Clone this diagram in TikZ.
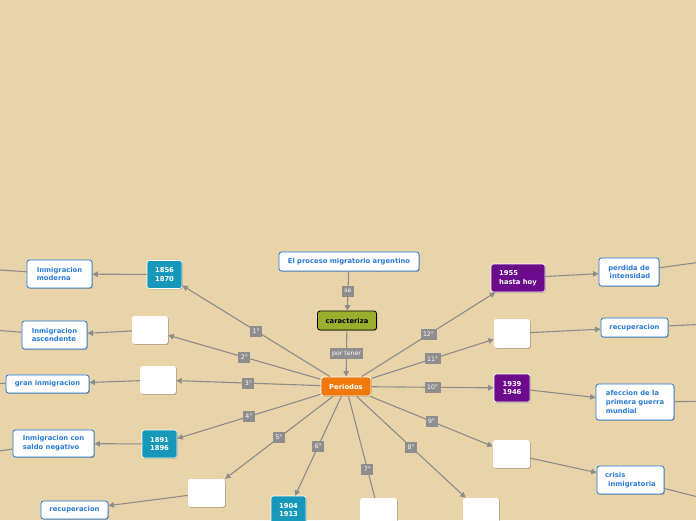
\documentclass[tikz,border=0pt]{standalone}
\usepackage{fontspec}
\setmainfont{DejaVu Sans}
\usetikzlibrary{arrows.meta,shadows}
\definecolor{bg}{HTML}{E9D4A9}
\definecolor{blueB}{HTML}{1E78DC}
\definecolor{blueT}{HTML}{2A7BD8}
\definecolor{tealc}{HTML}{1598BA}
\definecolor{purplec}{HTML}{6B0A8A}
\definecolor{orangec}{HTML}{EF790C}
\definecolor{greenc}{HTML}{9BAF2F}
\definecolor{lineg}{HTML}{8C8C8C}
\definecolor{labg}{HTML}{8E8E8E}
\begin{document}
\begin{tikzpicture}[x=1pt,y=-1pt,
  box/.style={rounded corners=2.5pt, font=\fontsize{6.8}{8.8}\selectfont\bfseries, inner sep=2pt,
    drop shadow={shadow xshift=0.8pt,shadow yshift=-0.8pt,opacity=0.25,fill=black}},
  bluebox/.style={box, draw=blueB, fill=white, text=blueT, line width=0.8pt, align=left},
  datebox/.style={box, draw=white, line width=0.6pt, text=white, align=center, minimum width=35pt, minimum height=28pt},
  tealbox/.style={datebox, fill=tealc},
  purplebox/.style={datebox, fill=purplec},
  whitebox/.style={box, fill=white, minimum width=36pt, minimum height=28pt},
  lab/.style={fill=labg, text=white, font=\fontsize{6.2}{6.5}\selectfont, inner xsep=2.5pt, inner ysep=0pt, minimum height=11pt},
  con/.style={draw=lineg, line width=1.1pt},
  arr/.style={con, -{Triangle[length=5.5pt,width=5.5pt]}},
]
\fill[bg] (0,0) rectangle (696,520);
\useasboundingbox (0,0) rectangle (696,520);
\clip (0,0) rectangle (696,520);

% central column
\node[bluebox, align=center, minimum width=140pt, minimum height=19pt] (proc) at (349,261.5) {El proceso migratorio argentino};
\node[box, fill=greenc, draw=black, line width=0.8pt, text=black, minimum width=59pt, minimum height=19pt] (car) at (347,320.5) {caracteriza};
\node[box, fill=orangec, draw=white, line width=0.8pt, text=white, minimum width=50pt, minimum height=19pt] (per) at (346,386.5) {Periodos};

% period nodes
\node[tealbox] (d1) at (164.5,274.5) {1856\\1870};
\node[whitebox] (w2) at (150,330) {};
\node[whitebox] (w3) at (158,380) {};
\node[tealbox] (d4) at (159.5,444) {1891\\1896};
\node[whitebox, minimum width=37pt] (w5) at (206.5,493) {};
\node[tealbox] (d6) at (288.5,510) {1904\\1913};
\node[whitebox, minimum width=37pt] (w7) at (378.5,512) {};
\node[whitebox] (w8) at (481,512) {};
\node[whitebox, minimum width=37pt] (w9) at (511.5,454) {};
\node[purplebox, minimum width=36pt] (d10) at (512,388) {1939\\1946};
\node[whitebox, minimum height=29pt] (w11) at (512,333.5) {};
\node[purplebox, minimum width=54pt, align=left] (d12) at (518,278) {1955\\hasta hoy};

% description nodes
\node[bluebox, minimum width=65pt, minimum height=28pt] (moderna) at (59.5,274) {Inmigracion\\moderna};
\node[bluebox, minimum width=65pt, minimum height=28pt] (asc) at (54.5,335) {Inmigracion\\ascendente};
\node[bluebox, minimum width=83pt, minimum height=18pt] (gran) at (47.5,384) {gran inmigracion};
\node[bluebox, minimum width=81pt, minimum height=27pt] (saldo) at (53.5,443.5) {Inmigracion con\\saldo negativo};
\node[bluebox, minimum width=67pt, minimum height=18pt] (recL) at (74.5,510) {recuperacion};
\node[bluebox, align=center, minimum width=60pt, minimum height=28pt] (perd) at (629,272) {perdida de\\\hspace*{2pt}intensidad};
\node[bluebox, minimum width=67pt, minimum height=19pt] (recR) at (634.5,327.5) {recuperacion};
\node[bluebox, minimum width=78pt, minimum height=36pt] (afec) at (635,402) {afeccion de la\\primera guerra\\mundial};
\node[bluebox, minimum width=67pt, minimum height=28pt] (crisis) at (630.5,480) {crisis\\\hspace*{3pt}inmigratoria};

% off-picture ends
\coordinate (oModerna) at (-30,268);
\coordinate (oAsc) at (-30,328);
\coordinate (oGran) at (-30,383);
\coordinate (oSaldo) at (-30,455);
\coordinate (oPerd) at (730,258);
\coordinate (oRecR) at (730,323);
\coordinate (oAfec) at (730,401);
\coordinate (oCrisis) at (730,505);

% central connectors
\draw[arr] (proc) -- node[lab]{se} (car);
\draw[arr] (car) -- node[lab]{por tener} (per);

\draw[arr] (per) -- node[lab]{1°} (d1);
\draw[arr] (per) -- node[lab]{2°} (w2);
\draw[arr] (per) -- node[lab]{3°} (w3);
\draw[arr] (per) -- node[lab]{4°} (d4);
\draw[arr] (per) -- node[lab]{5°} (w5);
\draw[arr] (per) -- node[lab]{6°} (d6);
\draw[con] (per) -- node[lab,pos=0.72]{7°} (w7);
\draw[arr] (per) -- node[lab]{8°} (w8);
\draw[arr] (per) -- node[lab]{9°} (w9);
\draw[arr] (per) -- node[lab]{10°} (d10);
\draw[arr] (per) -- node[lab]{11°} (w11);
\draw[arr] (per) -- node[lab]{12°} (d12);

% secondary connectors
\draw[arr] (d1) -- (moderna);
\draw[arr] (w2) -- (asc);
\draw[arr] (w3) -- (gran);
\draw[arr] (d4) -- (saldo);
\draw[arr] (w5) -- (recL);
\draw[arr] (d12) -- (perd);
\draw[arr] (w11) -- (recR);
\draw[arr] (d10) -- (afec);
\draw[arr] (w9) -- (crisis);

% lines leaving the picture
\draw[con] (moderna) -- (oModerna);
\draw[con] (asc) -- (oAsc);
\draw[con] (gran) -- (oGran);
\draw[con] (saldo) -- (oSaldo);
\draw[con] (perd) -- (oPerd);
\draw[con] (recR) -- (oRecR);
\draw[con] (afec) -- (oAfec);
\draw[con] (crisis) -- (oCrisis);
\end{tikzpicture}
\end{document}
